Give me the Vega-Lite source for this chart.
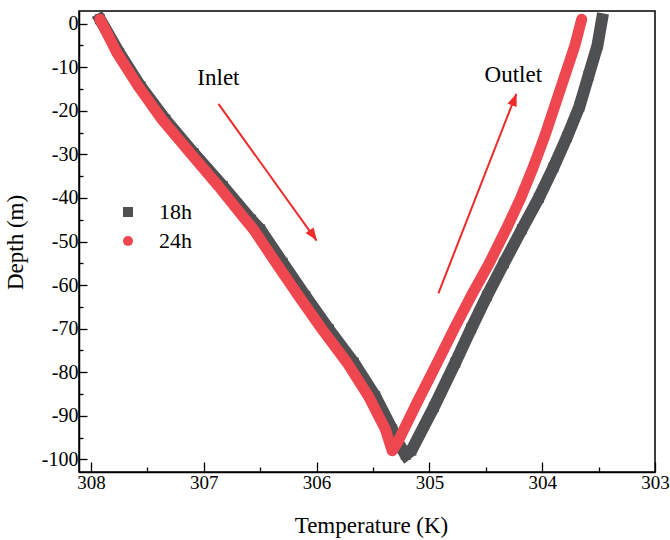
{
  "$schema": "https://vega.github.io/schema/vega-lite/v6.json",
  "width": 576,
  "height": 461,
  "autosize": "none",
  "padding": {"left": 79, "top": 11, "right": 15, "bottom": 68},
  "background": "white",
  "config": {
    "view": {"stroke": "#000", "strokeWidth": 1.5},
    "font": "Liberation Serif, Times New Roman, DejaVu Serif, serif",
    "axis": {"grid": false, "domainColor": "#000", "domainWidth": 1.5, "tickColor": "#000", "tickWidth": 1.3, "labelColor": "#000", "labelFont": "Liberation Serif, Times New Roman, DejaVu Serif, serif", "titleFont": "Liberation Serif, Times New Roman, DejaVu Serif, serif", "titleColor": "#000", "titleFontWeight": "normal", "labelFlush": false, "labelOverlap": false},
    "legend": {"labelFont": "Liberation Serif, Times New Roman, DejaVu Serif, serif"},
    "text": {"font": "Liberation Serif, Times New Roman, DejaVu Serif, serif"}
  },
  "datasets": {
    "profiles": [
      {"series": "18h", "i": 1, "T": 307.92, "depth": 1},
      {"series": "18h", "i": 2, "T": 307.75, "depth": -6.7},
      {"series": "18h", "i": 3, "T": 307.56, "depth": -14.4},
      {"series": "18h", "i": 4, "T": 307.34, "depth": -22},
      {"series": "18h", "i": 5, "T": 307.09, "depth": -29.7},
      {"series": "18h", "i": 6, "T": 306.83, "depth": -37.3},
      {"series": "18h", "i": 7, "T": 306.58, "depth": -45},
      {"series": "18h", "i": 8, "T": 306.50, "depth": -47.2},
      {"series": "18h", "i": 9, "T": 306.30, "depth": -54.9},
      {"series": "18h", "i": 10, "T": 306.10, "depth": -62.5},
      {"series": "18h", "i": 11, "T": 305.89, "depth": -70.2},
      {"series": "18h", "i": 12, "T": 305.67, "depth": -77.8},
      {"series": "18h", "i": 13, "T": 305.48, "depth": -85.5},
      {"series": "18h", "i": 14, "T": 305.33, "depth": -93.1},
      {"series": "18h", "i": 15, "T": 305.27, "depth": -96.5},
      {"series": "18h", "i": 16, "T": 305.21, "depth": -99},
      {"series": "18h", "i": 17, "T": 305.16, "depth": -98},
      {"series": "18h", "i": 18, "T": 304.96, "depth": -88},
      {"series": "18h", "i": 19, "T": 304.77, "depth": -77.8},
      {"series": "18h", "i": 20, "T": 304.63, "depth": -70},
      {"series": "18h", "i": 21, "T": 304.49, "depth": -62.5},
      {"series": "18h", "i": 22, "T": 304.34, "depth": -55},
      {"series": "18h", "i": 23, "T": 304.18, "depth": -47.2},
      {"series": "18h", "i": 24, "T": 304.03, "depth": -40},
      {"series": "18h", "i": 25, "T": 303.90, "depth": -33},
      {"series": "18h", "i": 26, "T": 303.78, "depth": -26},
      {"series": "18h", "i": 27, "T": 303.67, "depth": -19},
      {"series": "18h", "i": 28, "T": 303.59, "depth": -12},
      {"series": "18h", "i": 29, "T": 303.51, "depth": -5},
      {"series": "18h", "i": 30, "T": 303.47, "depth": 1},
      {"series": "24h", "i": 1, "T": 307.92, "depth": 1},
      {"series": "24h", "i": 2, "T": 307.77, "depth": -6.7},
      {"series": "24h", "i": 3, "T": 307.58, "depth": -14.4},
      {"series": "24h", "i": 4, "T": 307.37, "depth": -22},
      {"series": "24h", "i": 5, "T": 307.12, "depth": -29.7},
      {"series": "24h", "i": 6, "T": 306.87, "depth": -37.3},
      {"series": "24h", "i": 7, "T": 306.63, "depth": -45},
      {"series": "24h", "i": 8, "T": 306.56, "depth": -47.2},
      {"series": "24h", "i": 9, "T": 306.36, "depth": -54.9},
      {"series": "24h", "i": 10, "T": 306.16, "depth": -62.5},
      {"series": "24h", "i": 11, "T": 305.95, "depth": -70.2},
      {"series": "24h", "i": 12, "T": 305.73, "depth": -77.8},
      {"series": "24h", "i": 13, "T": 305.54, "depth": -85.5},
      {"series": "24h", "i": 14, "T": 305.39, "depth": -93.1},
      {"series": "24h", "i": 15, "T": 305.33, "depth": -98},
      {"series": "24h", "i": 16, "T": 305.28, "depth": -96},
      {"series": "24h", "i": 17, "T": 305.11, "depth": -87},
      {"series": "24h", "i": 18, "T": 304.93, "depth": -77.8},
      {"series": "24h", "i": 19, "T": 304.78, "depth": -70},
      {"series": "24h", "i": 20, "T": 304.63, "depth": -62.5},
      {"series": "24h", "i": 21, "T": 304.47, "depth": -55},
      {"series": "24h", "i": 22, "T": 304.32, "depth": -47.2},
      {"series": "24h", "i": 23, "T": 304.19, "depth": -40},
      {"series": "24h", "i": 24, "T": 304.08, "depth": -33},
      {"series": "24h", "i": 25, "T": 303.98, "depth": -26},
      {"series": "24h", "i": 26, "T": 303.89, "depth": -19},
      {"series": "24h", "i": 27, "T": 303.80, "depth": -12},
      {"series": "24h", "i": 28, "T": 303.71, "depth": -5},
      {"series": "24h", "i": 29, "T": 303.65, "depth": 1}
    ],
    "arrows": [
      {"name": "Inlet", "T1": 306.87, "D1": -18.4, "T2": 306.0, "D2": -49.8},
      {"name": "Outlet", "T1": 304.92, "D1": -61.9, "T2": 304.23, "D2": -16.1}
    ],
    "heads": [
      {"name": "Inlet", "T": 306.033, "depth": -48.46},
      {"name": "Outlet", "T": 304.249, "depth": -17.55}
    ],
    "notes": [
      {"text": "Inlet", "T": 306.87, "depth": -14.15},
      {"text": "Outlet", "T": 304.256, "depth": -13.4}
    ]
  },
  "layer": [
    {
      "data": {"name": "profiles"},
      "transform": [{"filter": "datum.series === '18h'"}],
      "mark": {"type": "line", "color": "#4f5052", "strokeWidth": 12, "strokeCap": "square", "strokeJoin": "miter"},
      "encoding": {
        "x": {"field": "T", "type": "quantitative", "scale": {"domain": [303, 308.106], "reverse": true, "nice": false, "zero": false},
          "axis": {"orient": "bottom", "values": [303, 304, 305, 306, 307, 308], "tickSize": -10, "labelFontSize": 19, "labelPadding": 11, "title": "Temperature (K)", "titleFontSize": 23, "titleX": 292, "titleY": 60, "titleBaseline": "alphabetic", "titleAlign": "center", "titleAnchor": null}},
        "y": {"field": "depth", "type": "quantitative", "scale": {"domain": [-102.9, 2.9], "nice": false, "zero": false},
          "axis": {"orient": "left", "values": [-100, -90, -80, -70, -60, -50, -40, -30, -20, -10, 0], "tickSize": -8, "labelFontSize": 20, "labelPadding": 9, "labelExpr": "'' + datum.value", "title": "Depth (m)", "titleFontSize": 23, "titleX": -57, "titleY": 231, "titleAngle": -90, "titleBaseline": "alphabetic", "titleAlign": "center", "titleAnchor": null}},
        "order": {"field": "i", "type": "quantitative"}
      }
    },
    {
      "data": {"name": "profiles"},
      "transform": [{"filter": "datum.series === '18h'"}],
      "mark": {"type": "point", "filled": true, "opacity": 1, "size": 100},
      "encoding": {
        "x": {"field": "T", "type": "quantitative",
          "axis": {"orient": "bottom", "values": [303.5, 304.5, 305.5, 306.5, 307.5], "tickSize": -5, "labels": false, "domain": false, "title": null}},
        "y": {"field": "depth", "type": "quantitative",
          "axis": {"orient": "left", "values": [-95, -85, -75, -65, -55, -45, -35, -25, -15, -5], "tickSize": -4, "labels": false, "domain": false, "title": null}},
        "color": {"field": "series", "type": "nominal", "scale": {"domain": ["18h", "24h"], "range": ["#4f5052", "#ef4750"]},
          "legend": {"orient": "none", "legendX": 38, "legendY": 190, "title": null, "labelFontSize": 22, "labelColor": "#000", "symbolSize": 100, "labelOffset": 20, "rowPadding": 7, "padding": 0, "symbolStrokeWidth": 0}},
        "shape": {"field": "series", "type": "nominal", "scale": {"domain": ["18h", "24h"], "range": ["square", "circle"]},
          "legend": {"orient": "none", "legendX": 38, "legendY": 190, "title": null, "labelFontSize": 22, "labelColor": "#000", "symbolSize": 100, "labelOffset": 20, "rowPadding": 7, "padding": 0, "symbolStrokeWidth": 0}}
      }
    },
    {
      "data": {"name": "profiles"},
      "transform": [{"filter": "datum.series === '24h'"}],
      "mark": {"type": "line", "color": "#ef4750", "strokeWidth": 11, "strokeCap": "round", "strokeJoin": "round"},
      "encoding": {
        "x": {"field": "T", "type": "quantitative", "axis": null},
        "y": {"field": "depth", "type": "quantitative", "axis": null},
        "order": {"field": "i", "type": "quantitative"}
      }
    },
    {
      "data": {"name": "profiles"},
      "transform": [{"filter": "datum.series === '24h'"}],
      "mark": {"type": "point", "filled": true, "opacity": 1, "size": 100},
      "encoding": {
        "x": {"field": "T", "type": "quantitative", "axis": null},
        "y": {"field": "depth", "type": "quantitative", "axis": null},
        "color": {"field": "series", "type": "nominal"},
        "shape": {"field": "series", "type": "nominal"}
      }
    },
    {
      "data": {"name": "arrows"},
      "mark": {"type": "rule", "color": "#ee2a2a", "strokeWidth": 2},
      "encoding": {
        "x": {"field": "T1", "type": "quantitative", "axis": null},
        "x2": {"field": "T2"},
        "y": {"field": "D1", "type": "quantitative", "axis": null},
        "y2": {"field": "D2"}
      }
    },
    {
      "data": {"name": "heads"},
      "transform": [{"filter": "datum.name === 'Inlet'"}],
      "mark": {"type": "point", "shape": "M0,-1L-0.7,0.8L0.7,0.8Z", "filled": true, "opacity": 1, "size": 196, "angle": 144.4, "color": "#ee2a2a"},
      "encoding": {
        "x": {"field": "T", "type": "quantitative", "axis": null},
        "y": {"field": "depth", "type": "quantitative", "axis": null}
      }
    },
    {
      "data": {"name": "heads"},
      "transform": [{"filter": "datum.name === 'Outlet'"}],
      "mark": {"type": "point", "shape": "M0,-1L-0.7,0.8L0.7,0.8Z", "filled": true, "opacity": 1, "size": 196, "angle": 21.4, "color": "#ee2a2a"},
      "encoding": {
        "x": {"field": "T", "type": "quantitative", "axis": null},
        "y": {"field": "depth", "type": "quantitative", "axis": null}
      }
    },
    {
      "data": {"name": "notes"},
      "mark": {"type": "text", "font": "Liberation Serif, Times New Roman, DejaVu Serif, serif", "fontSize": 23, "align": "center", "baseline": "alphabetic", "color": "#000"},
      "encoding": {
        "x": {"field": "T", "type": "quantitative", "axis": null},
        "y": {"field": "depth", "type": "quantitative", "axis": null},
        "text": {"field": "text"}
      }
    }
  ],
  "resolve": {"axis": {"x": "independent", "y": "independent"}}
}
